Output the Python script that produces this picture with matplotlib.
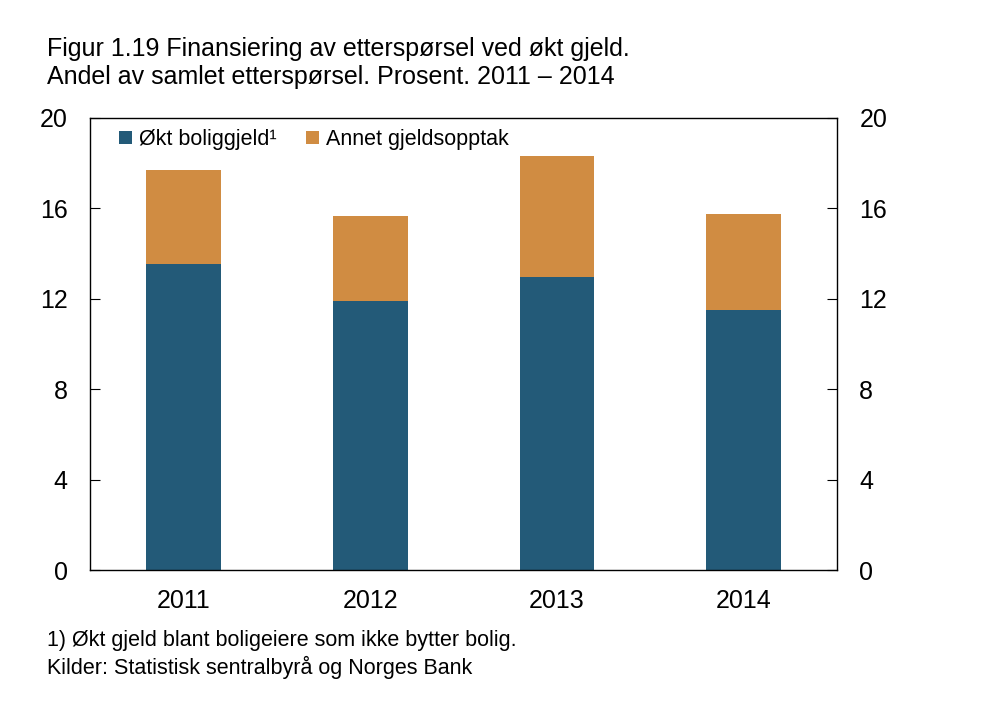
import numpy as np
import matplotlib.pyplot as plt

plt.rcParams['font.family'] = ['Liberation Sans', 'DejaVu Sans']

# data
years = ['2011', '2012', '2013', '2014']
bolig = [13.55, 11.9, 12.95, 11.5]
annet = [4.15, 3.75, 5.35, 4.25]

blue = '#235a78'
orange = '#d08c42'

fig = plt.figure(figsize=(9.83, 7.12), dpi=100)
ax = fig.add_axes([0.0916, 0.1994, 0.760, 0.635])

x = np.arange(len(years))
ax.bar(x, bolig, width=0.4, color=blue, label='Økt boliggjeld¹')
ax.bar(x, annet, width=0.4, bottom=bolig, color=orange, label='Annet gjeldsopptak')

ax.set_xlim(-0.5, len(years) - 0.5)
ax.set_ylim(0, 20)
ax.set_yticks([0, 4, 8, 12, 16, 20])
ax.set_xticks(x)
ax.set_xticklabels(years)
ax.tick_params(axis='x', length=0, labelsize=18, pad=14)
ax.tick_params(axis='y', direction='in', length=7, labelsize=18, pad=16,
               left=True, right=True, labelleft=True, labelright=True)
for s in ax.spines.values():
    s.set_linewidth(1.0)

ax.legend(loc='upper left', bbox_to_anchor=(0.013, 1.018), ncol=2, frameon=False,
          fontsize=15.5, handlelength=0.6, handleheight=0.6, handletextpad=0.3,
          columnspacing=1.4)

fig.text(0.048, 0.931, 'Figur 1.19 Finansiering av etterspørsel ved økt gjeld.',
         fontsize=18, va='center')
fig.text(0.048, 0.892, 'Andel av samlet etterspørsel. Prosent. 2011 – 2014',
         fontsize=18, va='center')
fig.text(0.048, 0.100, '1) Økt gjeld blant boligeiere som ikke bytter bolig.',
         fontsize=15.5, va='center')
fig.text(0.048, 0.062, 'Kilder: Statistisk sentralbyrå og Norges Bank',
         fontsize=15.5, va='center')

fig.savefig('out.png', dpi=100)
